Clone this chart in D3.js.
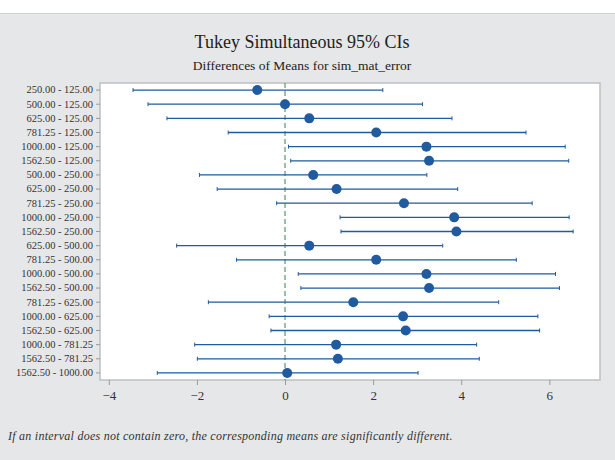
<!DOCTYPE html>
<html>
<head>
<meta charset="utf-8">
<script src="https://cdn.jsdelivr.net/npm/d3@7"></script>
<style>
  body { margin: 0; background: #fff; }
  svg text { font-family: "Liberation Serif", "Times New Roman", serif; }
</style>
</head>
<body>
<script>
// comparisons (row labels), top to bottom
var pairs = [
    "250.00 - 125.00", "500.00 - 125.00", "625.00 - 125.00",
    "781.25 - 125.00", "1000.00 - 125.00", "1562.50 - 125.00",
    "500.00 - 250.00", "625.00 - 250.00", "781.25 - 250.00",
    "1000.00 - 250.00", "1562.50 - 250.00",
    "625.00 - 500.00", "781.25 - 500.00", "1000.00 - 500.00",
    "1562.50 - 500.00",
    "781.25 - 625.00", "1000.00 - 625.00", "1562.50 - 625.00",
    "1000.00 - 781.25", "1562.50 - 781.25",
    "1562.50 - 1000.00"
];
// difference of means and the simultaneous 95% CI bounds
var diffs = [-0.63, 0.00, 0.55, 2.07, 3.21, 3.27, 0.64, 1.17, 2.70, 3.84,
    3.89, 0.55, 2.07, 3.21, 3.27, 1.55, 2.68, 2.74, 1.16, 1.20, 0.05];
var lowers = [-3.45, -3.11, -2.68, -1.29, 0.08, 0.13, -1.94, -1.54, -0.19,
    1.25, 1.27, -2.46, -1.10, 0.30, 0.36, -1.74, -0.36, -0.32, -2.05, -1.99,
    -2.90];
var uppers = [2.22, 3.12, 3.79, 5.47, 6.36, 6.44, 3.22, 3.92, 5.61, 6.45,
    6.54, 3.58, 5.25, 6.14, 6.23, 4.85, 5.74, 5.78, 4.35, 4.41, 3.02];
var xTicks = [-4, -2, 0, 2, 4, 6];

var W = 615, H = 460;
var margin = {top: 83, right: 15, bottom: 80, left: 100},
    width = W - margin.left - margin.right,
    height = H - margin.top - margin.bottom;

var blue = "#1f5b9e";
var serif = "'Liberation Serif', 'Times New Roman', serif";

var svg = d3.select("body").append("svg")
    .attr("width", W)
    .attr("height", H)
    .style("display", "block");

// background: white strip on top, grey panel below
svg.append("rect").attr("width", W).attr("height", H).attr("fill", "#ffffff");
svg.append("rect").attr("x", 0).attr("y", 13).attr("width", W)
    .attr("height", H - 13).attr("fill", "#e6e7e8");
svg.append("line").attr("x1", 0).attr("x2", W).attr("y1", 13.5).attr("y2", 13.5)
    .attr("stroke", "#d2d3d5");

// titles
svg.append("text")
    .attr("x", 302).attr("y", 48)
    .attr("text-anchor", "middle")
    .attr("font-family", serif)
    .attr("font-size", 18).attr("fill", "#222")
    .text("Tukey Simultaneous 95% CIs");
svg.append("text")
    .attr("x", 302).attr("y", 70)
    .attr("text-anchor", "middle")
    .attr("font-family", serif)
    .attr("font-size", 13.5).attr("fill", "#222")
    .text("Differences of Means for sim_mat_error");

var g = svg.append("g")
    .attr("transform", "translate(" + margin.left + "," + margin.top + ")");

var x = d3.scaleLinear().domain([-4.2, 7.15]).range([0, width]);
var y = d3.scaleBand().domain(pairs).range([0, height]).padding(0);

// plot area
g.append("rect")
    .attr("width", width).attr("height", height)
    .attr("fill", "#fff")
    .attr("stroke", "#bfc0c2").attr("stroke-width", 1.5);

// zero reference line
g.append("line")
    .attr("x1", x(0)).attr("x2", x(0))
    .attr("y1", 0).attr("y2", height)
    .attr("stroke", "#5a9a6c").attr("stroke-width", 1.2)
    .attr("stroke-dasharray", "5,3");

var rows = g.selectAll("g.row")
    .data(pairs)
    .enter().append("g")
    .attr("class", "row")
    .attr("transform", function(d) {
        return "translate(0," + (y(d) + y.bandwidth() / 2) + ")";
    });

rows.append("line")
    .attr("x1", function(d, i) { return x(lowers[i]); })
    .attr("x2", function(d, i) { return x(uppers[i]); })
    .attr("stroke", blue).attr("stroke-width", 1.3);

// small end caps
rows.append("line")
    .attr("x1", function(d, i) { return x(lowers[i]); })
    .attr("x2", function(d, i) { return x(lowers[i]); })
    .attr("y1", -2).attr("y2", 2)
    .attr("stroke", blue).attr("stroke-width", 1);
rows.append("line")
    .attr("x1", function(d, i) { return x(uppers[i]); })
    .attr("x2", function(d, i) { return x(uppers[i]); })
    .attr("y1", -2).attr("y2", 2)
    .attr("stroke", blue).attr("stroke-width", 1);

rows.append("circle")
    .attr("cx", function(d, i) { return x(diffs[i]); })
    .attr("r", 5)
    .attr("fill", blue);

// axes
var yAxis = g.append("g")
    .call(d3.axisLeft(y).tickSize(4).tickPadding(3));
yAxis.attr("font-family", serif).attr("font-size", 10.5);
yAxis.select(".domain").remove();
yAxis.selectAll("line").attr("stroke", "#999");
yAxis.selectAll("text").attr("fill", "#333");

var xAxis = g.append("g")
    .attr("transform", "translate(0," + height + ")")
    .call(d3.axisBottom(x).tickValues(xTicks).tickSize(5).tickPadding(6)
        .tickFormat(d3.format("d")));
xAxis.attr("font-family", serif).attr("font-size", 13);
xAxis.select(".domain").remove();
xAxis.selectAll("line").attr("stroke", "#999");
xAxis.selectAll("text").attr("fill", "#333");

// footnote
svg.append("text")
    .attr("x", 8).attr("y", 440)
    .attr("font-family", serif)
    .attr("font-size", 12).attr("font-style", "italic")
    .attr("letter-spacing", 0.25)
    .attr("fill", "#333")
    .text("If an interval does not contain zero, the corresponding means are significantly different.");
</script>
</body>
</html>
